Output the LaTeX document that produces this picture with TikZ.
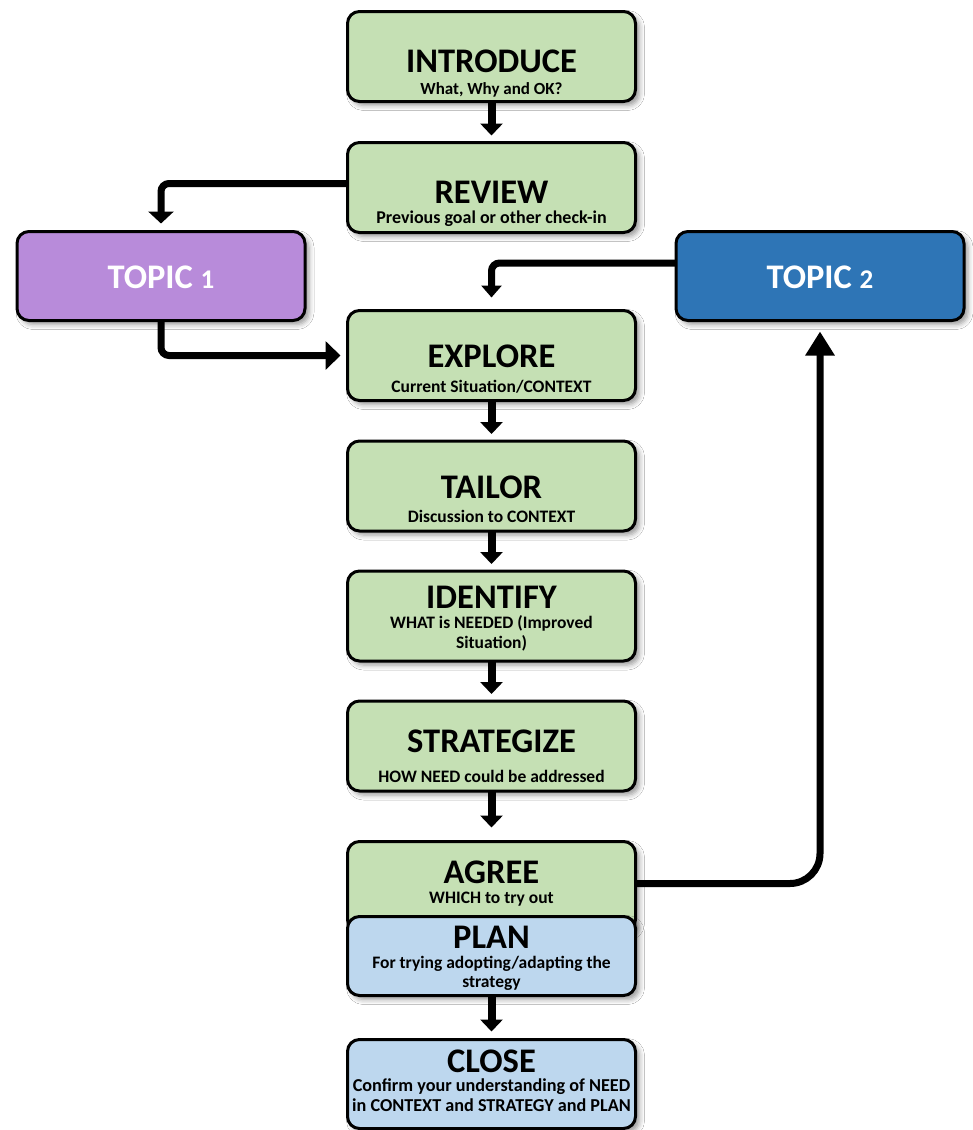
\documentclass[tikz,border=0pt]{standalone}
\usepackage{fontspec}
\setmainfont{Carlito}
\usetikzlibrary{arrows.meta,shadows.blur}

\definecolor{stepgreen}{HTML}{C5E0B4}
\definecolor{stepblue}{HTML}{BDD7EE}
\definecolor{topicpurple}{HTML}{B88BDA}
\definecolor{topicblue}{HTML}{2E75B6}

\begin{document}
\begin{tikzpicture}[x=1pt,y=-1pt,
  box/.style={draw=black, line width=3pt, rounded corners=12pt,
    minimum width=288pt, minimum height=90pt, inner sep=0pt, outer sep=0pt,
    blur shadow={shadow xshift=4pt, shadow yshift=-4pt,
      shadow blur radius=5pt, shadow opacity=40}},
  greenbox/.style={box, fill=stepgreen},
  bluebox/.style={box, fill=stepblue},
  title/.style={anchor=base, inner sep=0pt, font=\fontsize{34.5}{36}\selectfont\bfseries},
  % for a subtitle of two lines, the base anchor sits on the last line
  sub/.style={anchor=base, inner sep=0pt, align=center,
    font=\fontsize{17.5}{19.5}\selectfont\bfseries},
  topictext/.style={anchor=base, inner sep=0pt, text=white,
    font=\fontsize{34.5}{36}\selectfont\bfseries},
  flow/.style={line width=8pt, -{Triangle[width=22pt,length=12pt]}, shorten >=7pt},
  link/.style={line width=7pt, rounded corners=8pt},
]
\useasboundingbox (0,0) rectangle (973,1130);
\fill[white] (0,0) rectangle (973,1130);

% main column of steps
\node[greenbox] (intro) at (491.5,56.5) {};
\node[title] (introT) at ([yshift=-60.5pt]intro.north) {INTRODUCE};
\node[sub, font=\fontsize{17}{19.5}\selectfont\bfseries] (introS) at ([yshift=-82.5pt]intro.north) {What, Why and OK?};

\node[greenbox] (review) at (491.5,187.5) {};
\node[title] (reviewT) at ([yshift=-61pt]review.north) {REVIEW};
\node[sub, font=\fontsize{18}{19.5}\selectfont\bfseries] (reviewS) at ([yshift=-80.5pt]review.north) {Previous goal or other check-in};

\node[greenbox] (explore) at (491.5,355.5) {};
\node[title] (exploreT) at ([yshift=-57pt]explore.north) {EXPLORE};
\node[sub] (exploreS) at ([yshift=-81.5pt]explore.north) {Current Situation/CONTEXT};

\node[greenbox] (tailor) at (491.5,486) {};
\node[title] (tailorT) at ([yshift=-57pt]tailor.north) {TAILOR};
\node[sub] (tailorS) at ([yshift=-81pt]tailor.north) {Discussion to CONTEXT};

\node[greenbox] (identify) at (491.5,616) {};
\node[title] (identifyT) at ([yshift=-37pt]identify.north) {IDENTIFY};
\node[sub] (identifyS) at ([yshift=-77pt]identify.north) {WHAT is NEEDED (Improved\\Situation)};

\node[greenbox] (strategize) at (491.5,746) {};
\node[title] (strategizeT) at ([yshift=-51.5pt]strategize.north) {STRATEGIZE};
\node[sub] (strategizeS) at ([yshift=-81.5pt]strategize.north) {HOW NEED could be addressed};

\node[greenbox] (agree) at (491.5,886.5) {};
\node[title] (agreeT) at ([yshift=-41.5pt]agree.north) {AGREE};
\node[sub] (agreeS) at ([yshift=-61.5pt]agree.north) {WHICH to try out};

\node[bluebox, minimum height=79pt] (plan) at (491.5,956) {};
\node[title] (planT) at ([yshift=-31.5pt]plan.north) {PLAN};
\node[sub] (planS) at ([yshift=-71pt]plan.north) {For trying adopting/adapting the\\strategy};

\node[bluebox, minimum height=89pt] (close) at (491.5,1084) {};
\node[title] (closeT) at ([yshift=-32.5pt]close.north) {CLOSE};
\node[sub, font=\fontsize{18.2}{19.5}\selectfont\bfseries] (closeS) at ([yshift=-71.5pt]close.north) {Confirm your understanding of NEED\\in CONTEXT and STRATEGY and PLAN};

% side topics
\node[box, minimum height=89pt, fill=topicpurple] (topic1) at (161,276) {};
\node[topictext] (topic1T) at ([yshift=-12pt]topic1.center) {TOPIC {\fontsize{27}{30}\selectfont 1}};

\node[box, minimum height=89pt, fill=topicblue] (topic2) at (820,276) {};
\node[topictext] (topic2T) at ([yshift=-12pt]topic2.center) {TOPIC {\fontsize{27}{30}\selectfont 2}};

% straight steps down the column
\draw[flow] (intro) -- (review);
\draw[flow] (explore) -- (tailor);
\draw[flow] (tailor) -- (identify);
\draw[flow] (identify) -- (strategize);
\draw[flow, shorten >=14pt] (strategize) -- (agree);
\draw[flow, shorten >=8pt] (plan) -- (close);

% branches to and from the topics
\draw[link, -{Triangle[width=25pt,length=12pt]}, shorten >=8pt]
  ([yshift=4pt]review.west) -| (topic1.north);
\draw[link, -{Triangle[width=28pt,length=15pt]}, shorten >=7pt]
  (topic1.south) |- (explore.west);
\draw[link, -{Triangle[width=20pt,length=12pt]}, shorten >=13pt]
  ([yshift=13pt]topic2.west) -| (explore.north);
\draw[link, rounded corners=30pt, -{Triangle[width=28pt,length=24pt]}, shorten >=11pt]
  ([yshift=3pt]agree.east) -| (topic2.south);
\end{tikzpicture}
\end{document}
